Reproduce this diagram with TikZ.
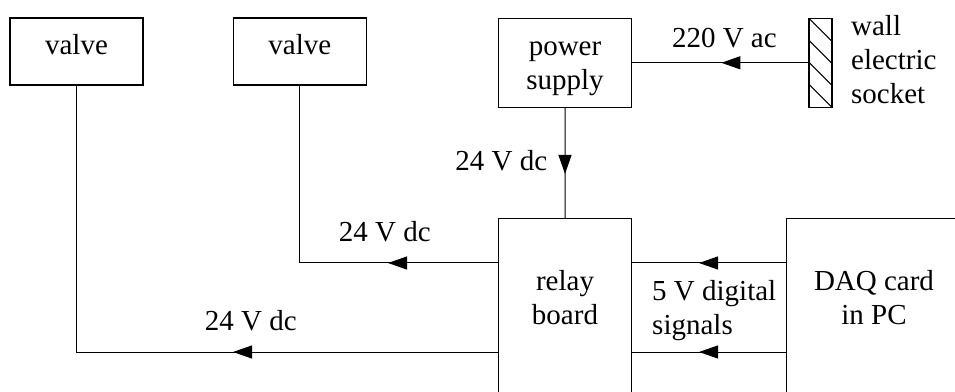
\documentclass[tikz,border=0pt]{standalone}
\usepackage{fontspec}
\setmainfont{Liberation Serif}
\usetikzlibrary{positioning, arrows.meta, decorations.markings}

\tikzset{
  blk/.style={draw, line width=1.3pt, inner sep=0pt, align=center},
  lbl/.style={inner sep=3.33pt},
  wire/.style={line width=1pt},
  socketbox/.style={draw, line width=1.3pt, minimum width=23pt, minimum height=89pt, inner sep=0pt,
    path picture={\foreach \k in {0,22,44,66} \draw[line width=1.1pt] ([yshift=-\k pt]path picture bounding box.north west) -- ++(25,-25);}},
  tipat/.style={postaction={decorate}, decoration={markings, mark=at position #1 with {\arrow{Triangle[length=19pt,width=13pt]}}}}
}

\begin{document}
\begin{tikzpicture}[x=1pt, y=1pt, font=\fontsize{29pt}{34pt}\selectfont]
\useasboundingbox (0,0) rectangle (955,391);
\clip (0,0) rectangle (955,391);
% boxes
\node[blk, minimum width=133pt, minimum height=67pt, text height=20pt, text depth=13pt] (valveA) at (76.5,339.5) {valve};
\node[blk, minimum width=133pt, minimum height=67pt, text height=20pt, text depth=13pt, right=89pt of valveA] (valveB) {valve};
\node[blk, minimum width=133.3pt, minimum height=89pt, text height=60pt, text depth=7pt] (psu) at (565,328.2) {power\\supply};
\node[socketbox, right=176pt of psu] (socket) {};
\node[lbl, align=left, right=15pt of socket, yshift=3pt] (walltxt) {wall\\electric\\socket};
\node[blk, minimum width=133.3pt, minimum height=250pt, anchor=north west] (relay) at (497.7,173) {};
\node[lbl, align=center] (relaytxt) at (565,93.9) {relay\\board};
\node[blk, minimum width=250pt, minimum height=250pt, anchor=north west] (daq) at (786,173) {};
\node[lbl, align=center] (daqtxt) at (874,93.4) {DAQ card\\in PC};
\node[lbl, align=left, anchor=west] (sigtxt) at (648.7,80.2) {5 V digital\\signals};
% connectors
\draw[wire, tipat=87pt] (socket.west) -- node[lbl, pos=0.477, above=11.4pt] (acv) {220 V ac} (psu.east);
\draw[wire, tipat=66pt] (psu.south) -- node[lbl, pos=0.48, left=14pt] (dcmain) {24 V dc} (relay.north);
\draw[wire, tipat=109.7pt] ([yshift=-45pt]relay.north west) -| node[lbl, pos=0.285, above=17.7pt] (dcB) {24 V dc} (valveB.south);
\draw[wire, tipat=264.7pt] ([yshift=-134pt]relay.north west) -| node[lbl, pos=0.293, above=17.7pt] (dcA) {24 V dc} (valveA.south);
\draw[wire, tipat=87pt] ([yshift=-45pt]daq.north west) -- ([yshift=-45pt]relay.north east);
\draw[wire, tipat=87pt] ([yshift=-134pt]daq.north west) -- ([yshift=-134pt]relay.north east);
\end{tikzpicture}
\end{document}
